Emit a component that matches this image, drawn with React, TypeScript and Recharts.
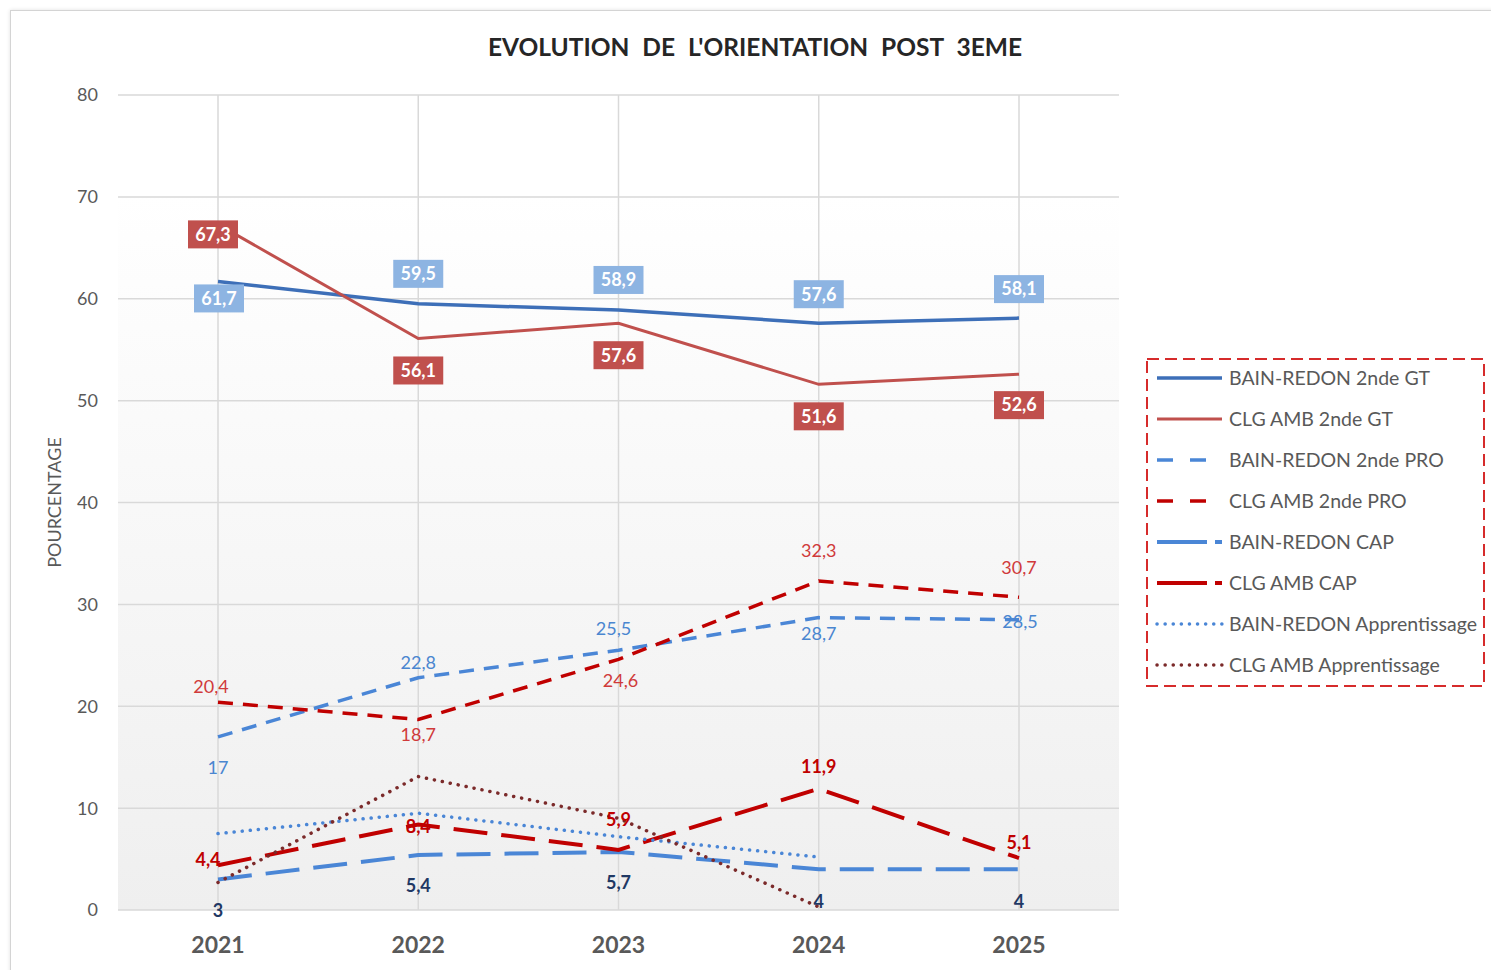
import { CartesianGrid, LabelList, Legend, Line, LineChart, ReferenceLine, XAxis, YAxis } from "recharts";

const years = ["2021", "2022", "2023", "2024", "2025"];
const bainGT = [61.7, 59.5, 58.9, 57.6, 58.1];
const clgGT = [67.3, 56.1, 57.6, 51.6, 52.6];
const bainPRO = [17, 22.8, 25.5, 28.7, 28.5];
const clgPRO = [20.4, 18.7, 24.6, 32.3, 30.7];
const bainCAP = [3, 5.4, 5.7, 4, 4];
const clgCAP = [4.4, 8.4, 5.9, 11.9, 5.1];
const bainApp = [7.5, 9.5, 7.2, 5.2, null];
const clgApp = [2.7, 13.1, 9.0, 0.3, null];
const yTicks = [0, 10, 20, 30, 40, 50, 60, 70, 80];

const FONT = "Lato, 'Open Sans', sans-serif";
const GREY = "#595959";

type Series = {
  key: string;
  name: string;
  values: (number | null)[];
  color: string;
  width: number;
  dash?: string;
  legendDash?: string;
  round?: boolean;
  box?: string;
  labelColor?: string;
  bold?: boolean;
  offsets?: number[][];
};

const series: Series[] = [
  { key: "bainGT", name: "BAIN-REDON 2nde GT", values: bainGT, color: "#3d6fb8", width: 3.5, box: "#8db4e2",
    offsets: [[1, 17], [0, -30], [0, -30], [0, -29], [0, -29]] },
  { key: "clgGT", name: "CLG AMB 2nde GT", values: clgGT, color: "#c0504d", width: 3, box: "#c0504d",
    offsets: [[-5, 10], [0, 32], [0, 32], [0, 32], [0, 31]] },
  { key: "bainPRO", name: "BAIN-REDON 2nde PRO", values: bainPRO, color: "#4a86d6", width: 3.5, dash: "15 10", legendDash: "16 17",
    labelColor: "#4a86d0", offsets: [[0, 31], [0, -15], [-5, -22], [0, 16], [1, 2]] },
  { key: "clgPRO", name: "CLG AMB 2nde PRO", values: clgPRO, color: "#c00000", width: 3.5, dash: "15 10", legendDash: "16 17",
    labelColor: "#d03a3a", offsets: [[-7, -15], [0, 15], [2, 21], [0, -30], [0, -30]] },
  { key: "bainCAP", name: "BAIN-REDON CAP", values: bainCAP, color: "#4a86d6", width: 4, dash: "34 14", legendDash: "50 8",
    labelColor: "#1f3864", bold: true, offsets: [[0, 31], [0, 31], [0, 31], [0, 32], [0, 32]] },
  { key: "clgCAP", name: "CLG AMB CAP", values: clgCAP, color: "#c00000", width: 4, dash: "34 14", legendDash: "50 8",
    labelColor: "#c00000", bold: true, offsets: [[-10, -5], [0, 2], [0, -30], [0, -22], [0, -15]] },
  { key: "bainApp", name: "BAIN-REDON Apprentissage", values: bainApp, color: "#4a86d6", width: 3.5, dash: "0.1 8", legendDash: "0.1 8", round: true },
  { key: "clgApp", name: "CLG AMB Apprentissage", values: clgApp, color: "#7b2a2a", width: 3.5, dash: "0.1 8", legendDash: "0.1 8", round: true },
];

const data = years.map((year, i) => {
  const row: Record<string, string | number | null> = { year };
  series.forEach((s) => (row[s.key] = s.values[i]));
  return row;
});

const fmt = (v: number) => String(v).replace(".", ",");

function makeLabel(s: Series) {
  return (props: any) => {
    const { value, index } = props;
    const x = props.x ?? props.viewBox?.x;
    const y = props.y ?? props.viewBox?.y;
    if (value == null || x == null || !s.offsets) return null;
    const [dx, dy] = s.offsets[index];
    const cx = x + dx;
    const cy = y + dy;
    const txt = fmt(value);
    if (s.box) {
      const w = 50;
      const h = 28;
      return (
        <g>
          <rect x={cx - w / 2} y={cy - h / 2} width={w} height={h} fill={s.box} />
          <text x={cx} y={cy} dy="0.35em" textAnchor="middle" fill="#fff" fontWeight={700} fontSize={18} fontFamily={FONT}>
            {txt}
          </text>
        </g>
      );
    }
    return (
      <text x={cx} y={cy} dy="0.35em" textAnchor="middle" fill={s.labelColor} fontWeight={s.bold ? 700 : 400} fontSize={18} fontFamily={FONT}>
        {txt}
      </text>
    );
  };
}

function LegendBox() {
  return (
    <div style={{ position: "relative", width: 339, height: 329, fontFamily: FONT }}>
      <svg width={339} height={329} style={{ position: "absolute", left: 0, top: 0 }}>
        <rect x={1} y={1} width={337} height={327} fill="none" stroke="#d62b2b" strokeWidth={2} strokeDasharray="12 6" />
        {series.map((s, i) => (
          <line
            key={s.key}
            x1={11}
            x2={76}
            y1={20 + i * 41}
            y2={20 + i * 41}
            stroke={s.color}
            strokeWidth={s.width}
            strokeDasharray={s.legendDash}
            strokeLinecap={s.round ? "round" : "butt"}
          />
        ))}
      </svg>
      {series.map((s, i) => (
        <div
          key={s.key}
          style={{ position: "absolute", left: 83, top: 20 + i * 41 - 12, height: 24, lineHeight: "24px", fontSize: 19.5, color: GREY, whiteSpace: "nowrap" }}
        >
          {s.name}
        </div>
      ))}
    </div>
  );
}

export default function App() {
  return (
    <div style={{ position: "absolute", left: 0, top: 0, width: 1491, height: 970, overflow: "hidden", background: "#fff" }}>
      <div style={{ position: "absolute", left: 10, top: 10, width: 1600, height: 1100, borderLeft: "1px solid #d4d4d4", borderTop: "1px solid #d4d4d4", boxShadow: "0 0 4px rgba(0,0,0,0.12)" }} />
      <div style={{ position: "absolute", left: 0, width: 1510, top: 32, textAlign: "center", fontFamily: FONT, fontWeight: 700, fontSize: 24.5, color: "#262626", wordSpacing: 7 }}>
        EVOLUTION DE L'ORIENTATION POST 3EME
      </div>
      <div style={{ position: "absolute", left: 0, top: 0 }}>
        <LineChart width={1491} height={970} data={data} margin={{ top: 95, right: 372, bottom: 0, left: 38 }}>
          <defs>
            <linearGradient id="plotBg" x1="0" y1="0" x2="0" y2="1">
              <stop offset="0%" stopColor="#ffffff" />
              <stop offset="12%" stopColor="#ffffff" />
              <stop offset="100%" stopColor="#efefef" />
            </linearGradient>
          </defs>
          <CartesianGrid stroke="#d9d9d9" strokeWidth={1.5} fill="url(#plotBg)" vertical={false} />
          {years.map((y) => (
            <ReferenceLine key={y} x={y} stroke="#d9d9d9" strokeWidth={1.5} />
          ))}
          <XAxis
            dataKey="year"
            height={60}
            padding={{ left: 100, right: 100 }}
            axisLine={false}
            tickLine={false}
            tickMargin={21}
            tick={{ fill: GREY, fontSize: 23, fontWeight: 700, fontFamily: FONT }}
          />
          <YAxis
            width={80}
            domain={[0, 80]}
            ticks={yTicks}
            axisLine={false}
            tickLine={false}
            tickMargin={14}
            tick={{ fill: GREY, fontSize: 18, fontFamily: FONT }}
            label={{
              content: (p: any) => {
                const vb = p.viewBox || { x: 38, y: 95, height: 815 };
                const lx = vb.x + 17;
                const ly = vb.y + vb.height / 2;
                return (
                  <text x={lx} y={ly} transform={`rotate(-90 ${lx} ${ly})`} textAnchor="middle" dy="0.35em" fill={GREY} fontSize={18} fontFamily={FONT}>
                    POURCENTAGE
                  </text>
                );
              },
            }}
          />
          <Legend
            layout="vertical"
            align="center"
            verticalAlign="middle"
            content={() => <LegendBox />}
            wrapperStyle={{ left: 1146, top: 358, width: 339, height: 329 }}
          />
          {series.map((s) => (
            <Line
              key={s.key}
              dataKey={s.key}
              name={s.name}
              type="linear"
              stroke={s.color}
              strokeWidth={s.width}
              strokeDasharray={s.dash}
              strokeLinecap={s.round ? "round" : "butt"}
              dot={false}
              activeDot={false}
              isAnimationActive={false}
            >
              {s.offsets && <LabelList dataKey={s.key} content={makeLabel(s)} />}
            </Line>
          ))}
        </LineChart>
      </div>
    </div>
  );
}
